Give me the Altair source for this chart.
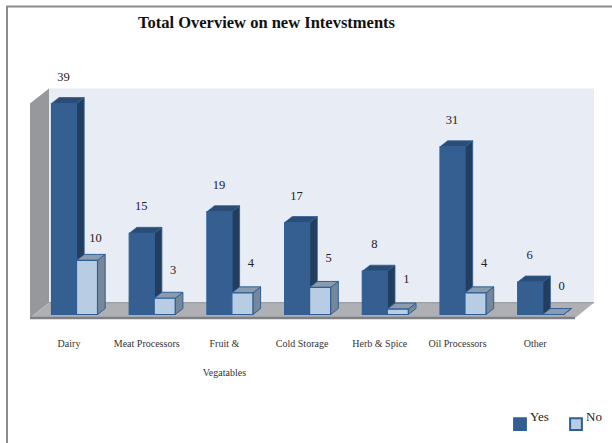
import altair as alt
import pandas as pd

categories = ["Dairy", "Meat Processors", "Fruit &\nVegatables", "Cold Storage",
              "Herb & Spice", "Oil Processors", "Other"]
yes_values = [39, 15, 19, 17, 8, 31, 6]
no_values = [10, 3, 4, 5, 1, 4, 0]

W, H = 612, 443
STEP = 77.7            # pixels per category
X0 = 69.0              # pixel centre of the first category
UNIT = 5.41            # pixels per count
BASE = 314.5           # pixel of the zero line

x_scale = alt.Scale(domain=[-X0 / STEP, (W - X0) / STEP], nice=False, zero=False)
y_scale = alt.Scale(domain=[(BASE - H) / UNIT, BASE / UNIT], nice=False, zero=False)


def px(v):
    return v / STEP


def py(v):
    return v / UNIT


DX, DY = px(7.7), py(6.0)
YES_L, YES_R = px(-17.5), px(7.5)
NO_L, NO_R = px(7.5), px(28.5)

# room extents in data units
LEFT, LEFT_BACK = (30 - X0) / STEP, (49 - X0) / STEP
RIGHT_FRONT, RIGHT = (575 - X0) / STEP, (594 - X0) / STEP
FLOOR_FRONT, FLOOR_BACK = (BASE - 318) / UNIT, (BASE - 302.7) / UNIT
WALL_TOP = (BASE - 88.5) / UNIT
WALL_FRONT_TOP = 39.0


def side_face(i, left, right, v):
    rows = [(i + right, 0, v), (i + right + DX, DY, v + DY)]
    return [dict(id=i, x=a, lo=b, hi=c) for a, b, c in rows]


def top_face(i, left, right, v):
    rows = [(i + left, v, v), (i + left + DX, v, v + DY),
            (i + right, v, v + DY), (i + right + DX, v + DY, v + DY)]
    return [dict(id=i, x=a, lo=b, hi=c) for a, b, c in rows]


def faces(fn, left, right, values):
    out = []
    for i, v in enumerate(values):
        out += fn(i, left, right, v)
    return pd.DataFrame(out)


def poly(df, fill, stroke=None, sw=1.0):
    kw = dict(fill=fill, interpolate="linear")
    if stroke:
        kw.update(stroke=stroke, strokeWidth=sw)
    return alt.Chart(df).mark_area(**kw).encode(
        x=alt.X("x:Q", scale=x_scale, axis=None),
        y=alt.Y("hi:Q", scale=y_scale, axis=None),
        y2="lo:Q",
        detail="id:N",
    )


back_wall = pd.DataFrame([dict(id=0, x=LEFT_BACK, lo=FLOOR_BACK, hi=WALL_TOP),
                          dict(id=0, x=RIGHT, lo=FLOOR_BACK, hi=WALL_TOP)])
side_wall = pd.DataFrame([dict(id=0, x=LEFT, lo=FLOOR_FRONT, hi=WALL_FRONT_TOP),
                          dict(id=0, x=LEFT_BACK, lo=FLOOR_BACK, hi=WALL_TOP)])
floor = pd.DataFrame([dict(id=0, x=LEFT, lo=FLOOR_FRONT, hi=FLOOR_FRONT),
                      dict(id=0, x=LEFT_BACK, lo=FLOOR_FRONT, hi=FLOOR_BACK),
                      dict(id=0, x=RIGHT_FRONT, lo=FLOOR_FRONT, hi=FLOOR_BACK),
                      dict(id=0, x=RIGHT, lo=FLOOR_BACK, hi=FLOOR_BACK)])
floor_front = pd.DataFrame([dict(x=LEFT, x2=RIGHT_FRONT, y=FLOOR_FRONT)])
floor_back = pd.DataFrame([dict(x=LEFT_BACK, x2=RIGHT, y=FLOOR_BACK)])


def edge(df, color, sw):
    return alt.Chart(df).mark_rule(color=color, strokeWidth=sw).encode(
        x=alt.X("x:Q", scale=x_scale, axis=None), x2="x2:Q",
        y=alt.Y("y:Q", scale=y_scale, axis=None),
    )


BLUE, BLUE_EDGE = "#355f91", "#2f5f96"
PALE = "#b8cce4"

fronts = pd.DataFrame(
    [dict(series="Yes", x=i + YES_L, x2=i + YES_R, v=v) for i, v in enumerate(yes_values)]
    + [dict(series="No", x=i + NO_L, x2=i + NO_R, v=v) for i, v in enumerate(no_values)]
)
base_front = alt.Chart(fronts).mark_bar(stroke=BLUE_EDGE, strokeWidth=1.2).encode(
    x=alt.X("x:Q", scale=x_scale, axis=None),
    x2="x2:Q",
    y=alt.Y("v:Q", scale=y_scale, axis=None),
    y2=alt.datum(0),
    color=alt.Color(
        "series:N",
        scale=alt.Scale(domain=["Yes", "No"], range=[BLUE, PALE]),
        legend=alt.Legend(
            title=None, orient="none", legendX=513, legendY=417, direction="horizontal",
            symbolType="square", symbolSize=140, symbolStrokeColor=BLUE_EDGE,
            symbolStrokeWidth=2, symbolOpacity=1, labelFont="Liberation Serif",
            labelFontSize=13, labelColor="#222222", columnPadding=17, labelOffset=3,
            labelBaseline="bottom",
        ),
    ),
)
yes_front = base_front.transform_filter(alt.datum.series == "Yes")
no_front = base_front.transform_filter(alt.datum.series == "No")

# Value labels sit a fixed distance above each bar; the tall "No" bar reads closer.
no_lift = [22, 28, 30, 29, 30, 30, 29]
labels = pd.DataFrame(
    [dict(x=i + px(-5.5), y=v + py(27), t=str(v)) for i, v in enumerate(yes_values)]
    + [dict(x=i + px(26.5), y=v + py(no_lift[i]), t=str(v)) for i, v in enumerate(no_values)]
)
value_text = alt.Chart(labels).mark_text(
    font="Liberation Serif", fontSize=12.5, color="#222222"
).encode(
    x=alt.X("x:Q", scale=x_scale, axis=None),
    y=alt.Y("y:Q", scale=y_scale, axis=None),
    text="t:N",
)

cat_df = pd.DataFrame({"x": range(len(categories)), "t": categories})
cat_text = alt.Chart(cat_df).mark_text(
    font="Liberation Serif", fontSize=10, color="#333333", baseline="top",
    lineBreak="\n", lineHeight=29,
).encode(
    x=alt.X("x:Q", scale=x_scale, axis=None),
    y=alt.value(338.5),
    text="t:N",
)

title_text = alt.Chart(pd.DataFrame({"t": ["Total Overview on new Intevstments"]})).mark_text(
    font="Liberation Serif", fontSize=16.5, fontWeight="bold", color="#111111"
).encode(x=alt.value(266.5), y=alt.value(23), text="t:N")

frame_color = "#8c8c8c"
frame_top = alt.Chart(pd.DataFrame({"a": [0]})).mark_rule(color=frame_color, strokeWidth=2).encode(
    x=alt.value(6), x2=alt.value(612), y=alt.value(6.5)
)
frame_left = alt.Chart(pd.DataFrame({"a": [0]})).mark_rule(color=frame_color, strokeWidth=2).encode(
    x=alt.value(7), y=alt.value(6), y2=alt.value(443)
)

chart = alt.layer(
    frame_top,
    frame_left,
    poly(back_wall, "#e8ecf5"),
    poly(side_wall, "#97989c"),
    poly(floor, "#afb0b3"),
    edge(floor_back, "#8f9093", 1),
    edge(floor_front, "#7f8083", 2.5),
    poly(faces(side_face, YES_L, YES_R, yes_values), "#223d5e", BLUE_EDGE, 0.8),
    poly(faces(top_face, YES_L, YES_R, yes_values), "#2b4c74", BLUE_EDGE, 0.8),
    yes_front,
    poly(faces(side_face, NO_L, NO_R, no_values), "#77879a", BLUE_EDGE, 1.0),
    poly(faces(top_face, NO_L, NO_R, no_values), "#8a9bb0", BLUE_EDGE, 1.0),
    no_front,
    value_text,
    cat_text,
    title_text,
).properties(
    width=W, height=H, padding=0, background="white",
    autosize=alt.AutoSizeParams(type="none"),
).configure_view(stroke=None)

chart.save("out.html", embed_options={"renderer": "svg", "actions": False})
